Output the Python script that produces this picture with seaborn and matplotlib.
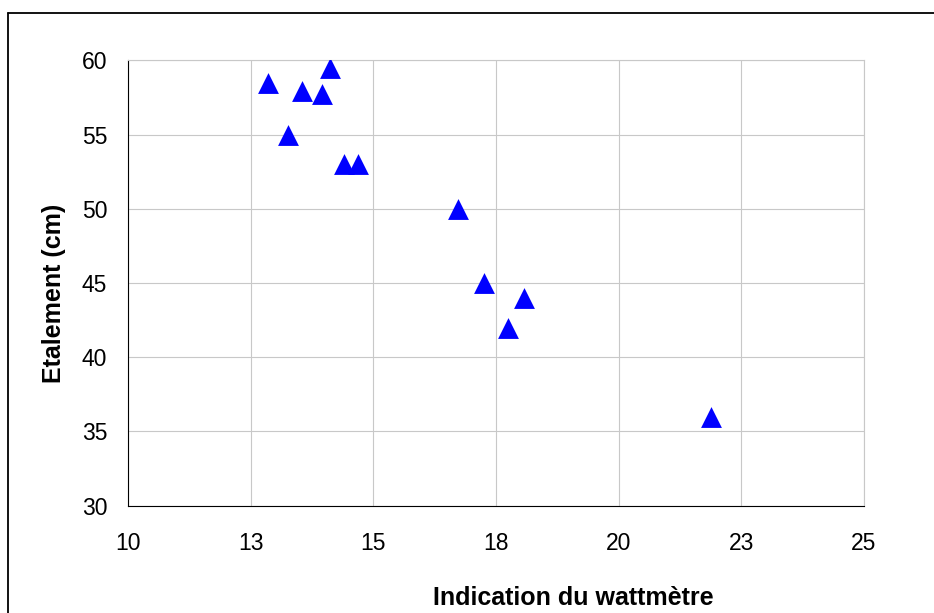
import matplotlib
matplotlib.use("Agg")
import pandas as pd
import seaborn as sns
import matplotlib.pyplot as plt
from matplotlib.lines import Line2D

# valeurs
wattmetre = [12.86, 13.27, 13.54, 13.95, 14.11, 14.41, 14.68, 16.73, 17.26, 17.74, 18.07, 21.89]
etalement = [58.5, 55.0, 57.9, 57.7, 59.5, 53.0, 53.0, 50.0, 45.0, 42.0, 44.0, 36.0]

x_ticks = [10, 12.5, 15, 17.5, 20, 22.5, 25]
x_tick_labels = ["10", "13", "15", "18", "20", "23", "25"]
y_ticks = [30, 35, 40, 45, 50, 55, 60]

df = pd.DataFrame({"wattmetre": wattmetre, "etalement": etalement})

sns.set_style("white")
plt.rcParams["font.family"] = ["Liberation Sans", "DejaVu Sans"]
plt.rcParams["text.color"] = "black"
plt.rcParams["axes.labelcolor"] = "black"

fig = plt.figure(figsize=(9.34, 6.13), dpi=100)
ax = fig.add_axes([0.137, 0.175, 0.788, 0.7266])

sns.scatterplot(data=df, x="wattmetre", y="etalement", marker="^", s=225,
                color="#0000ff", linewidth=0, ax=ax, zorder=3)

ax.set_xlim(10, 25)
ax.set_ylim(30, 60)
ax.set_xticks(x_ticks)
ax.set_xticklabels(x_tick_labels)
ax.set_yticks(y_ticks)
ax.grid(True, color="#c8c8c8", linewidth=0.8)
ax.set_axisbelow(True)

for s in ["top", "right"]:
    ax.spines[s].set_color("#c8c8c8")
    ax.spines[s].set_linewidth(0.8)
for s in ["left", "bottom"]:
    ax.spines[s].set_color("black")
    ax.spines[s].set_linewidth(0.8)

ax.tick_params(axis="both", direction="out", length=6.5, width=0.8, color="black",
               labelsize=16.5, labelcolor="black")
ax.tick_params(axis="x", pad=12.5)
ax.tick_params(axis="y", pad=8.5)

ax.set_xlabel("Indication du wattmètre", fontsize=18, fontweight="bold", color="black")
ax.set_ylabel("Etalement (cm)", fontsize=18, fontweight="bold", color="black")
ax.xaxis.set_label_coords(0.6046, -0.2067)
ax.xaxis.label.set_va("center")
ax.yaxis.set_label_coords(-0.1005, 0.4764)
ax.yaxis.label.set_va("center")
ax.yaxis.label.set_ha("center")

# cadre du graphique
fig.add_artist(Line2D([0.0089, 1.0], [0.9793, 0.9793], color="black", linewidth=1.3))
fig.add_artist(Line2D([0.0089, 0.0089], [0.0, 0.9793], color="black", linewidth=1.3))

fig.savefig("out.png", dpi=100)
